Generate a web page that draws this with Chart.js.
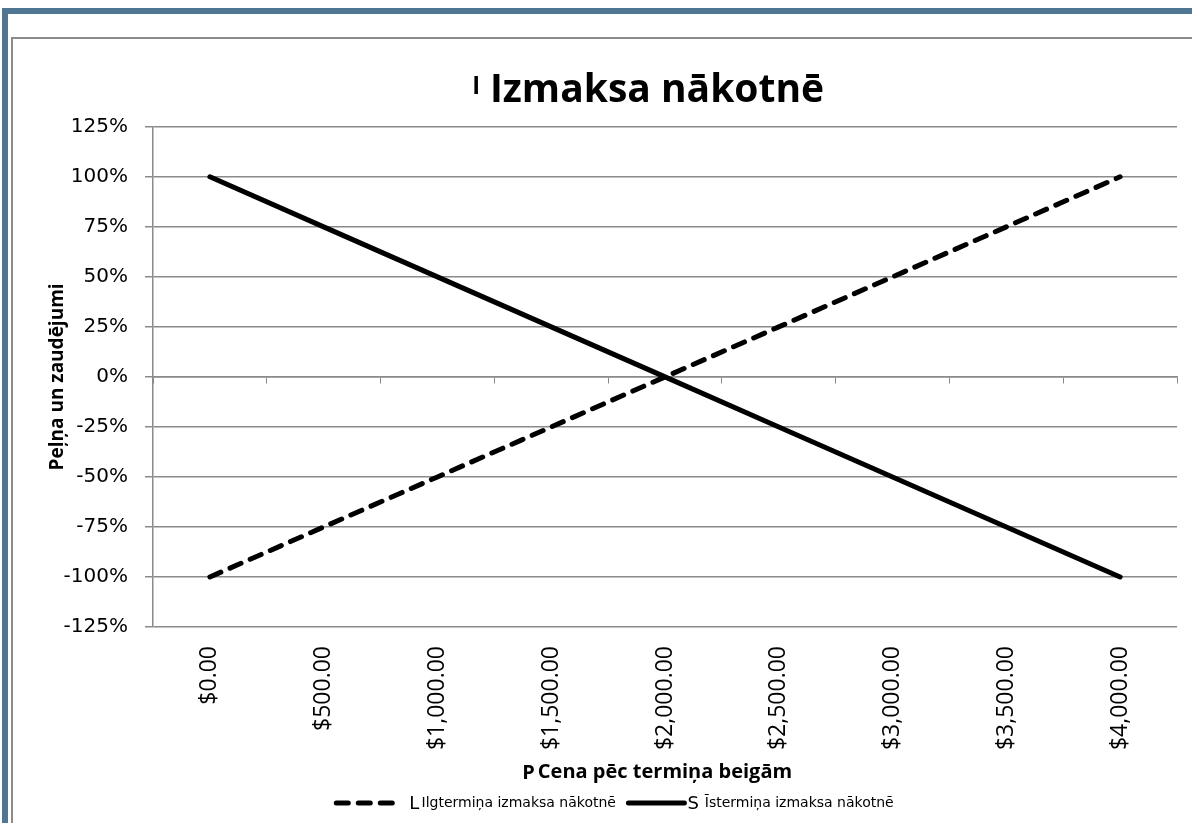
<!DOCTYPE html>
<html><head><meta charset="utf-8">
<script src="https://cdn.jsdelivr.net/npm/chart.js@4.4.1/dist/chart.umd.min.js"></script>
<style>
html,body{margin:0;padding:0;background:#fff;width:1192px;height:823px;overflow:hidden;}
#frame{position:absolute;left:2px;top:8px;width:1300px;height:900px;border-left:6px solid #4F7794;border-top:6px solid #4F7794;}
#inner{position:absolute;left:11px;top:37px;width:1300px;height:900px;border-left:2px solid #8c8c8c;border-top:2px solid #8c8c8c;}
#wrap{position:absolute;left:13px;top:39px;width:1179px;height:784px;}
</style></head><body>
<div id="frame"></div><div id="inner"></div>
<div id="wrap"><canvas id="c"></canvas></div>
<script>
const categories = ['$0.00','$500.00','$1,000.00','$1,500.00','$2,000.00','$2,500.00','$3,000.00','$3,500.00','$4,000.00'];
const longFuture = [-100,-75,-50,-25,0,25,50,75,100];
const shortFuture = [100,75,50,25,0,-25,-50,-75,-100];
const seriesNames = ['Ilgtermiņa izmaksa nākotnē','Īstermiņa izmaksa nākotnē'];
const chartTitle = 'Izmaksa nākotnē';
const yTitle = 'Peļņa un zaudējumi';
const xTitle = 'Cena pēc termiņa beigām';
const yMin = -125, yMax = 125, yStep = 25;

const GRID = '#8a8a8a';
const LEGEND_FONT = 14;
const BOXW = 56;

const artifacts = {
  id: 'artifacts',
  afterLayout(chart) {
    const tb = chart.titleBlock;
    const shift = (chart.chartArea.left + chart.chartArea.right) / 2 - (tb.left + tb.right) / 2 - 8;
    tb.left += shift; tb.right += shift;
    const lg = chart.legend;
    lg.left += 20; lg.right += 20;
  },
  afterDraw(chart) {
    const ctx = chart.ctx;
    ctx.save();
    ctx.fillStyle = '#000';
    ctx.textBaseline = 'alphabetic';
    const tb = chart.titleBlock;
    ctx.font = 'bold 39px "Open Sans"';
    const tw = ctx.measureText(chartTitle).width;
    const tcx = (tb.left + tb.right) / 2;
    ctx.font = 'bold 24px "Open Sans"';
    ctx.textAlign = 'right';
    ctx.fillText('l', tcx - tw / 2 - 10, 55);
    const xs = chart.scales.x;
    ctx.font = 'bold 20px "Open Sans"';
    const xw = ctx.measureText(xTitle).width;
    const xcx = (xs.left + xs.right) / 2;
    ctx.fillText('P', xcx - xw / 2 - 3, 740);
    const lg = chart.legend;
    ctx.textAlign = 'left';
    ctx.font = '18px "DejaVu Sans"';
    const letters = ['L', 'S'];
    const offs = [17, 3];
    lg.legendHitBoxes.forEach((hb, i) => {
      ctx.fillText(letters[i], hb.left + BOXW + offs[i], hb.top + hb.height / 2 + 6);
    });
    ctx.restore();
  }
};

new Chart(document.getElementById('c'), {
  type: 'line',
  data: {
    labels: categories,
    datasets: [
      { label: '     ' + seriesNames[0] + ' ', data: longFuture, borderColor: '#000', backgroundColor: '#000',
        borderWidth: 5, borderDash: [12, 10], borderCapStyle: 'round', pointRadius: 0, tension: 0,
        pointStyle: 'line', fill: false, xAxisID: 'x', yAxisID: 'y' },
      { label: '   ' + seriesNames[1], data: shortFuture, borderColor: '#000', backgroundColor: '#000',
        borderWidth: 5, borderCapStyle: 'round', pointRadius: 0, tension: 0,
        pointStyle: 'line', fill: false, xAxisID: 'x', yAxisID: 'y' }
    ]
  },
  options: {
    responsive: true,
    maintainAspectRatio: false,
    animation: false,
    layout: { padding: { left: 0, right: 15, top: 0, bottom: 3 } },
    plugins: {
      title: { display: true, text: chartTitle, color: '#000',
        font: { family: 'Open Sans', weight: 'bold', size: 39 },
        padding: { top: 28, bottom: 13 } },
      legend: { display: true, position: 'bottom',
        labels: { usePointStyle: true, pointStyleWidth: BOXW, color: '#000', padding: 8,
          font: { family: 'DejaVu Sans', size: LEGEND_FONT },
          generateLabels(chart) {
            const items = Chart.defaults.plugins.legend.labels.generateLabels(chart);
            items.forEach((it, i) => {
              const ds = chart.data.datasets[i];
              it.lineDash = ds.borderDash || [];
              it.lineWidth = ds.borderWidth;
              it.lineCap = 'round';
              it.strokeStyle = '#000';
              it.fillStyle = '#000';
            });
            return items;
          } } },
      tooltip: { enabled: false }
    },
    scales: {
      x: {
        type: 'category', position: 'bottom', offset: true,
        grid: { display: false, drawTicks: false },
        border: { display: false },
        ticks: { color: '#000', minRotation: 90, maxRotation: 90, padding: 19, autoSkip: false,
          font: { family: 'Open Sans', size: 23 } },
        title: { display: true, text: xTitle, color: '#000',
          font: { family: 'Open Sans', weight: 'bold', size: 20 }, padding: { top: 0, bottom: 4 } },
        afterFit(s) { s.height = 161; }
      },
      x2: {
        type: 'category', labels: categories, position: { y: 0 }, offset: true,
        grid: { display: true, drawOnChartArea: false, drawTicks: true, tickLength: 6, color: GRID, offset: true },
        border: { display: true, color: GRID, width: 1.5 },
        ticks: { display: false }
      },
      y: {
        type: 'linear', position: 'left', min: yMin, max: yMax,
        grid: { color: GRID, lineWidth: 1.5, drawTicks: true, tickLength: 8 },
        border: { display: true, color: GRID, width: 1.5 },
        ticks: { stepSize: yStep, color: '#000', padding: 17,
          font: { family: 'DejaVu Sans', size: 20 },
          callback: v => v + '%' },
        title: { display: true, text: yTitle, color: '#000',
          font: { family: 'Open Sans', weight: 'bold', size: 19 }, padding: { top: 33, bottom: 0 } },
        afterFit(s) { s.width = 140; }
      }
    }
  },
  plugins: [artifacts]
});
</script>
</body></html>
